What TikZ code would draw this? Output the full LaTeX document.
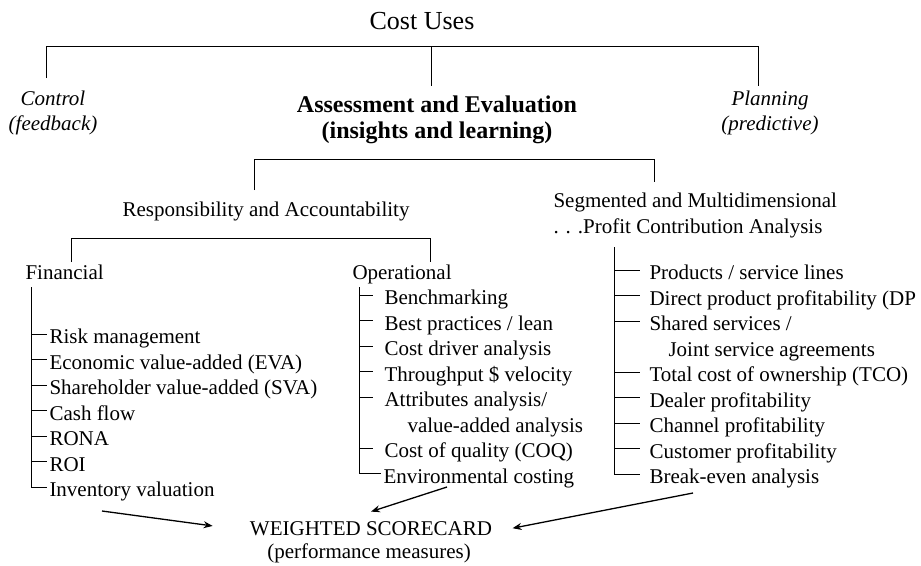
\documentclass[tikz,border=0pt]{standalone}
\usepackage{fontspec}
\setmainfont{Liberation Serif}
\usetikzlibrary{arrows.meta}

\newcommand{\twoln}[3]{\vtop{\hbox{#1}\hbox{\hspace*{#3}#2}}}

\tikzset{
  txt/.style={inner sep=0pt, font=\fontsize{21}{25.5}\selectfont},
  item/.style={txt, anchor=base west, inner ysep=0pt, text height=19pt, text depth=0pt},
  opitem/.style={item, inner xsep=11pt},
  segitem/.style={item, inner xsep=9pt},
  finitem/.style={item, inner xsep=2pt},
  feed/.style={->, line width=1.3pt},
}

\begin{document}
\begin{tikzpicture}[x=1pt,y=-1pt,line width=1pt,>={Stealth[length=9pt,width=7pt]}]
        \useasboundingbox (0,0) rectangle (921,565);
        % top level
        \node[txt, anchor=base, font=\fontsize{26}{30}\selectfont] (uses) at (422,29) {Cost Uses};
        \node[txt, align=center, font=\fontsize{21}{25.5}\itshape] (control) at (53,113) {Control\\(feedback)};
        \node[txt, align=center, font=\fontsize{24}{25.5}\bfseries] (assess) at (437,120) {Assessment and Evaluation\\(insights and learning)};
        \node[txt, align=center, font=\fontsize{21}{25.5}\itshape] (planning) at (770,113) {Planning\\(predictive)};
        \coordinate (ctrltop) at (46,78);
        \coordinate (plantop) at (758,86);
        \coordinate (asstop) at (431,86);
        \draw (ctrltop) |- (plantop |- 0,46) -- (plantop);
        \draw (asstop |- 0,46) -- (asstop);
        % second level
        \node[txt, anchor=base] (resp) at (266,216.5) {Responsibility and Accountability};
        \node[txt, align=left, anchor=west] (segm) at (553,215.7) {Segmented and Multidimensional\\. . .Profit Contribution Analysis};
        \coordinate (resptop) at (254,190);
        \coordinate (segmtop) at (654,182);
        \draw (resptop) |- (segmtop |- 0,159) -- (segmtop);
        % responsibility split
        \node[txt, anchor=base west] (fin) at (25,279.5) {Financial};
        \node[txt, anchor=base west] (oper) at (352,279.5) {Operational};
        \coordinate (fintop) at (71,262);
        \coordinate (opertop) at (430,262);
        \draw (fintop) |- (opertop |- 0,238) -- (opertop);
        % financial list
        \node[finitem] (fin1) at (47,343.5) {Risk management};
        \node[finitem] (fin2) at (47,369) {Economic value-added (EVA)};
        \node[finitem] (fin3) at (47,394.5) {Shareholder value-added (SVA)};
        \node[finitem] (fin4) at (47,420) {Cash flow};
        \node[finitem] (fin5) at (47,445.5) {RONA};
        \node[finitem] (fin6) at (47,471) {ROI};
        \node[finitem] (fin7) at (47,496.5) {Inventory valuation};
        \coordinate (finline) at (31,287);
        \draw (finline) |- (fin7.west);
        \foreach \i in {1,...,6}
          \draw (finline |- fin\i.west) -- (fin\i.west);
        % operational list
        \node[opitem] (op1) at (373,304.5) {Benchmarking};
        \node[opitem] (op2) at (373,330) {Best practices / lean};
        \node[opitem] (op3) at (373,355.5) {Cost driver analysis};
        \node[opitem] (op4) at (373,381) {Throughput \$ velocity};
        \node[opitem] (op5) at (373,406.5) {\twoln{Attributes analysis/}{value-added analysis}{23pt}};
        \node[opitem] (op6) at (373,457.5) {Cost of quality (COQ)};
        \node[finitem] (op7) at (381,483) {Environmental costing};
        \coordinate (opline) at (359,287);
        \draw (opline) |- (op7.west);
        \foreach \i in {1,...,6}
          \draw (opline |- op\i.west) -- (op\i.west);
        % segmented list
        \node[segitem] (seg1) at (640,279.5) {Products / service lines};
        \node[segitem] (seg2) at (640,305) {Direct product profitability (DP};
        \node[segitem] (seg3) at (640,330.5) {\twoln{Shared services /}{Joint service agreements}{19pt}};
        \node[segitem] (seg4) at (640,381.5) {Total cost of ownership (TCO)};
        \node[segitem] (seg5) at (640,407) {Dealer profitability};
        \node[segitem] (seg6) at (640,432.5) {Channel profitability};
        \node[segitem] (seg7) at (640,458) {Customer profitability};
        \node[segitem] (seg8) at (640,483.5) {Break-even analysis};
        \coordinate (segline) at (614,247);
        \draw (segline) |- (seg8.west);
        \foreach \i in {1,...,7}
          \draw (segline |- seg\i.west) -- (seg\i.west);
        % scorecard
        \node[txt, anchor=base, inner xsep=20pt, inner ysep=9pt] (score) at (371,535) {WEIGHTED SCORECARD};
        \node[txt, anchor=base] (perf) at (369,558) {(performance measures)};
        \coordinate (finend) at (102,511);
        \coordinate (opend) at (447,487);
        \coordinate (segend) at (693,493);
        \draw[feed, shorten >=17pt] (finend) -- (score.west);
        \draw[feed] (opend) -- (score.north);
        \draw[feed] (segend) -- (score.east);
\end{tikzpicture}
\end{document}
